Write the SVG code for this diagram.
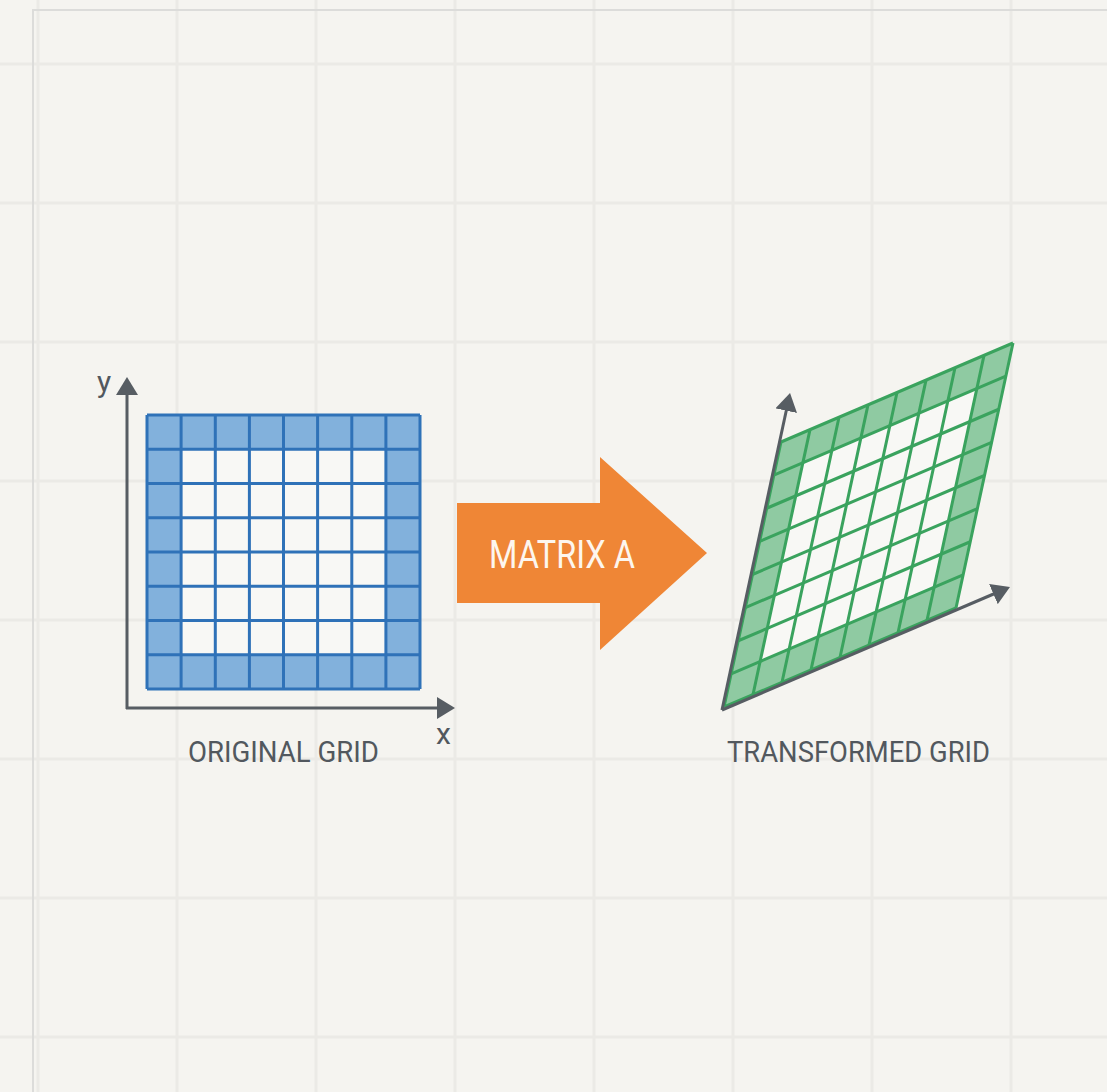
<svg xmlns="http://www.w3.org/2000/svg" width="1107" height="1092" viewBox="0 0 1107 1092">
  <defs>
    <style>
      .bgline { stroke: #ebeae6; stroke-width: 3; fill: none; }
      .axis { stroke: #575d63; stroke-width: 3; fill: none; marker-end: url(#ah); }
      .label { font-family: Roboto, "Liberation Sans", sans-serif; fill: #52585e; }
      .bline { stroke: #2f72b8; stroke-width: 3; fill: none; }
      .gline { stroke: #3aa35e; stroke-width: 3; fill: none; vector-effect: non-scaling-stroke; }
    </style>
    <marker id="ah" viewBox="0 0 18 22" refX="4" refY="11" markerWidth="18" markerHeight="22" markerUnits="userSpaceOnUse" orient="auto">
      <path d="M0,0 L18,11 L0,22 z" fill="#575d63"/>
    </marker>
  </defs>

  <!-- background -->
  <rect x="0" y="0" width="1107" height="1092" fill="#f5f4f0"/>
  <g id="background-grid">
    <path class="bgline" d="M38,0V1092 M177,0V1092 M316,0V1092 M455,0V1092 M594,0V1092 M733,0V1092 M872,0V1092 M1011,0V1092"/>
    <path class="bgline" d="M0,64H1107 M0,203H1107 M0,342H1107 M0,481H1107 M0,620H1107 M0,759H1107 M0,898H1107 M0,1037H1107"/>
    <rect x="33" y="10" width="1100" height="1100" fill="none" stroke="#dcdcda" stroke-width="2"/>
  </g>

  <!-- original grid -->
  <g id="original-grid">
    <rect x="147" y="415" width="273" height="274" fill="#82b1dc"/>
    <rect x="181.1" y="449.3" width="204.8" height="205.5" fill="#f8f8f5"/>
    <path class="bline" d="M147,415V689 M181.1,415V689 M215.3,415V689 M249.4,415V689 M283.5,415V689 M317.6,415V689 M351.8,415V689 M385.9,415V689 M420,415V689"/>
    <path class="bline" d="M147,415H420 M147,449.3H420 M147,483.5H420 M147,517.8H420 M147,552H420 M147,586.3H420 M147,620.5H420 M147,654.8H420 M147,689H420"/>
  </g>

  <!-- transformed grid -->
  <g id="transformed-grid">
    <g transform="matrix(29,-12.375,-7.125,33.125,781,442)">
      <rect x="0" y="0" width="8" height="8" fill="#8fcaa2"/>
      <rect x="1" y="1" width="6" height="6" fill="#f8f8f5"/>
      <path class="gline" d="M0,0V8 M1,0V8 M2,0V8 M3,0V8 M4,0V8 M5,0V8 M6,0V8 M7,0V8 M8,0V8"/>
      <path class="gline" d="M0,0H8 M0,1H8 M0,2H8 M0,3H8 M0,4H8 M0,5H8 M0,6H8 M0,7H8 M0,8H8"/>
    </g>
  </g>

  <!-- axes -->
  <g id="connectors">
    <path class="axis" d="M127,709 V391"/>
    <path class="axis" d="M126,708 H441"/>
    <path class="axis" d="M722,710 L787.1,406.7"/>
    <path class="axis" d="M722,710 L997.1,592.5"/>
  </g>

  <!-- matrix arrow -->
  <g id="matrix-a">
    <polygon points="457,503 600,503 600,457 707,553 600,650 600,603 457,603" fill="#ef8636"/>
    <text class="label" x="489" y="568" font-size="39" textLength="146" lengthAdjust="spacingAndGlyphs" style="fill:#fdf6ee">MATRIX A</text>
  </g>

  <!-- labels -->
  <g id="labels">
    <text class="label" x="97" y="392" font-size="30">y</text>
    <text class="label" x="436" y="744" font-size="30">x</text>
    <text class="label" x="188" y="762" font-size="30" textLength="191" lengthAdjust="spacingAndGlyphs">ORIGINAL GRID</text>
    <text class="label" x="727" y="762" font-size="30" textLength="263" lengthAdjust="spacingAndGlyphs">TRANSFORMED GRID</text>
  </g>
</svg>
